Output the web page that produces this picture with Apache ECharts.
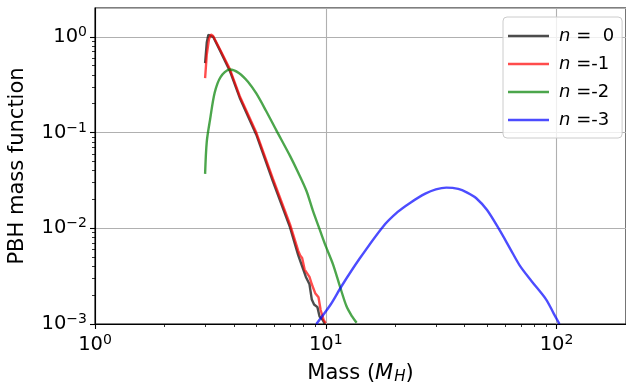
<!DOCTYPE html>
<html>
<head>
<meta charset="utf-8">
<script src="https://cdn.jsdelivr.net/npm/echarts@6/dist/echarts.min.js"></script>
<style>
  html, body { margin: 0; padding: 0; background: #fff; }
  #chart { width: 626px; height: 386px; }
</style>
</head>
<body>
<div id="chart"></div>
<script>
// mass (in M_H) and PBH mass function
const mass0 = [3.0, 3.05, 3.1, 3.15, 3.25, 3.5, 3.84, 4.24, 5.0, 5.9, 7.0, 7.6, 7.9, 8.2, 8.5, 8.7, 8.9, 9.2, 9.4, 9.7, 9.9];
const pbh0 = [0.53, 0.87, 1.05, 1.09, 1.0, 0.70, 0.44, 0.23, 0.095, 0.031, 0.0102, 0.0052, 0.0040, 0.0031, 0.0026, 0.0018, 0.0016, 0.0015, 0.0012, 0.0011, 0.001];

const mass1 = [3.0, 3.05, 3.12, 3.18, 3.25, 3.5, 3.84, 4.24, 5.0, 5.9, 7.0, 7.6, 7.75, 7.9, 8.1, 8.5, 8.7, 9.0, 9.3, 9.5, 9.8, 10.0];
const pbh1 = [0.37, 0.65, 0.95, 1.06, 1.02, 0.72, 0.46, 0.24, 0.10, 0.033, 0.011, 0.0058, 0.0052, 0.0049, 0.0037, 0.0031, 0.0026, 0.0021, 0.0019, 0.0014, 0.0011, 0.00102];

const mass2 = [3.0, 3.05, 3.15, 3.3, 3.5, 3.84, 4.2, 4.6, 5.0, 5.5, 6.1, 7.0, 7.6, 8.25, 8.8, 9.4, 10.0, 10.75, 11.5, 12.3, 13.0, 13.6];
const pbh2 = [0.037, 0.08, 0.135, 0.26, 0.38, 0.455, 0.42, 0.34, 0.256, 0.17, 0.106, 0.057, 0.038, 0.0245, 0.0152, 0.0098, 0.0065, 0.0042, 0.0025, 0.00153, 0.0012, 0.00103];

const mass3 = [9.1, 10.5, 11.7, 14.0, 17.7, 20.5, 23.1, 27.0, 30.0, 33.3, 37.5, 41.0, 44.9, 50.0, 56.6, 63.0, 69.2, 78.0, 90.2, 97.0, 103.0];
const pbh3 = [0.001, 0.0016, 0.00248, 0.0048, 0.0104, 0.0148, 0.0183, 0.023, 0.0255, 0.0266, 0.0258, 0.0236, 0.0206, 0.0155, 0.0096, 0.0061, 0.0041, 0.0028, 0.0018, 0.0013, 0.001];

const legendLabels = ['n =  0', 'n =-1', 'n =-2', 'n =-3'];
const lineColors = ['#000000', '#ff0000', '#008000', '#0000ff'];

// tick labels (powers of ten)
const xTickExps = [0, 1, 2];
const yTickExps = [-3, -2, -1, 0];
const minorMult = [2, 3, 4, 5, 6, 7, 8, 9];

const xMin = 1, xMax = 200;
const yMin = 1e-3, yMax = 2;

const xMinor = [];
[0, 1].forEach(e => minorMult.forEach(k => xMinor.push(Math.log10(k * Math.pow(10, e)))));
const yMinor = [];
[-3, -2, -1].forEach(e => minorMult.forEach(k => yMinor.push(Math.log10(k * Math.pow(10, e)))));

const font = 'DejaVu Sans';
const fs = 18;      // legend
const tickFs = 19.5;
const nameFs = 21;
const supRich = {
  sup: { fontSize: 14, fontFamily: font, color: '#000', verticalAlign: 'top', padding: [0, 0, 9, 0] }
};
const powLabel = v => {
  const e = Math.round(v);
  return '10{sup|' + (e < 0 ? '\u2212' + (-e) : e) + '}';
};

const pairs = (xs, ys) => xs.map((x, i) => [x, ys[i]]);
const seriesData = [pairs(mass0, pbh0), pairs(mass1, pbh1), pairs(mass2, pbh2), pairs(mass3, pbh3)];

const chart = echarts.init(document.getElementById('chart'), null, { renderer: 'canvas' });

const gridLine = { show: true, lineStyle: { color: '#b0b0b0', width: 1.1 } };
const hidden = { axisLine: { show: false }, axisTick: { show: false }, axisLabel: { show: false }, splitLine: { show: false } };

chart.setOption({
  animation: false,
  backgroundColor: '#fff',
  textStyle: { fontFamily: font },
  grid: {
    left: 95, right: 0, top: 8, bottom: 62,
    outerBoundsMode: 'none', containLabel: false,
    show: true, borderColor: '#000', borderWidth: 1.1, backgroundColor: 'transparent'
  },
  legend: {
    data: legendLabels,
    orient: 'vertical',
    left: 503,
    top: 17,
    padding: [10, 8, 9, 5],
    itemGap: 10,
    itemWidth: 41,
    itemHeight: 2.6,
    icon: 'rect',
    backgroundColor: 'rgba(255,255,255,0.8)',
    borderColor: '#cccccc',
    borderWidth: 1,
    borderRadius: 4,
    textStyle: {
      fontFamily: font, fontSize: fs, color: '#000', lineHeight: 18, padding: [0, 0, 0, 5],
      rich: { i: { fontStyle: 'italic', fontFamily: font, fontSize: fs, color: '#000', lineHeight: 18 } }
    },
    formatter: name => '{i|n}' + name.slice(1)
  },
  xAxis: [
    Object.assign({ type: 'log', logBase: 10, min: xMin, max: xMax }, hidden, { splitLine: gridLine }),
    {
      type: 'value', min: 0, max: Math.log10(xMax), position: 'bottom',
      axisLine: { show: true, onZero: false, lineStyle: { color: '#000', width: 1.1 } },
      axisTick: { show: true, customValues: xTickExps, length: 5, lineStyle: { color: '#000', width: 1.1 } },
      axisLabel: { show: true, customValues: xTickExps, formatter: powLabel, color: '#000', fontSize: tickFs, fontFamily: font, margin: 9, rich: supRich },
      splitLine: { show: false },
      name: 'Mass ({i|M}{sub|H})',
      nameLocation: 'middle',
      nameGap: 38,
      nameTextStyle: {
        fontSize: nameFs, fontFamily: font, color: '#000',
        rich: {
          i: { fontStyle: 'italic', fontSize: nameFs, fontFamily: font, color: '#000' },
          sub: { fontStyle: 'italic', fontSize: 15, fontFamily: font, color: '#000', verticalAlign: 'bottom', padding: [8, 0, 0, 1] }
        }
      }
    },
    {
      type: 'value', min: 0, max: Math.log10(xMax), position: 'bottom',
      axisLine: { show: false, onZero: false },
      axisTick: { show: true, customValues: xMinor, length: 3, lineStyle: { color: '#000', width: 0.8 } },
      axisLabel: { show: false },
      splitLine: { show: false }
    }
  ],
  yAxis: [
    Object.assign({ type: 'log', logBase: 10, min: yMin, max: yMax }, hidden, { splitLine: gridLine }),
    {
      type: 'value', min: -3, max: Math.log10(yMax), position: 'left',
      axisLine: { show: true, onZero: false, lineStyle: { color: '#000', width: 1.1 } },
      axisTick: { show: true, customValues: yTickExps, length: 5, lineStyle: { color: '#000', width: 1.1 } },
      axisLabel: { show: true, customValues: yTickExps, formatter: powLabel, color: '#000', fontSize: tickFs, fontFamily: font, margin: 8, rich: supRich },
      splitLine: { show: false },
      name: 'PBH mass function',
      nameLocation: 'middle',
      nameGap: 67,
      nameTextStyle: { fontSize: nameFs, fontFamily: font, color: '#000' }
    },
    {
      type: 'value', min: -3, max: Math.log10(yMax), position: 'left',
      axisLine: { show: false, onZero: false },
      axisTick: { show: true, customValues: yMinor, length: 3, lineStyle: { color: '#000', width: 0.8 } },
      axisLabel: { show: false },
      splitLine: { show: false }
    }
  ],
  series: legendLabels.map((name, i) => ({
    name: name,
    type: 'line',
    xAxisIndex: 0,
    yAxisIndex: 0,
    data: seriesData[i],
    symbol: 'none',
    smooth: i >= 2 ? 0.3 : false,
    color: lineColors[i],
    lineStyle: { color: lineColors[i], width: 2.4, opacity: 0.7 },
    itemStyle: { color: lineColors[i], opacity: 0.7 },
    z: 3 + i
  }))
});
</script>
</body>
</html>
